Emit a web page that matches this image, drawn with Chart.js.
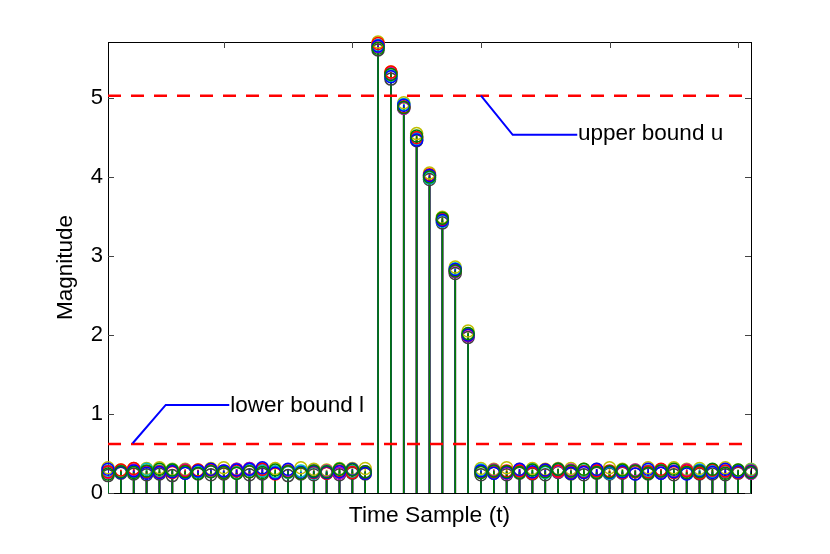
<!DOCTYPE html>
<html><head><meta charset="utf-8">
<script src="https://cdn.jsdelivr.net/npm/chart.js@4.4.1/dist/chart.umd.min.js"></script>
<style>html,body{margin:0;padding:0;background:#fff}canvas{display:block}</style>
</head><body>
<canvas id="c" width="830" height="554"></canvas>
<script>
// ---- data ----
const yTickValues = [0, 1, 2, 3, 4, 5];
const xTickValues = [10, 20, 30, 40, 50];
const upperBound = 5.03;
const lowerBound = 0.62;
const upperLabel = 'upper bound u';
const lowerLabel = 'lower bound l';
const upperLeader = [[30.0, 5.03], [32.47, 4.535], [37.49, 4.535]];
const lowerLeader = [[2.92, 0.63], [5.49, 1.115], [10.43, 1.115]];
const upperLabelAt = [37.55, 4.55];
const lowerLabelAt = [10.5, 1.105];

//              samples 1-21 (low)                                                                        | 22-29 (burst)                              | 30-51 (low)
const seriesBlack   = [0.22,0.25,0.24,0.23,0.24,0.22,0.25,0.24,0.23,0.24,0.25,0.23,0.24,0.25,0.22,0.24,0.23,0.25,0.23,0.25,0.24, 5.61,5.24,4.87,4.46,3.97,3.42,2.78,1.97, 0.23,0.25,0.23,0.25,0.24,0.23,0.26,0.24,0.23,0.25,0.24,0.25,0.24,0.24,0.25,0.23,0.25,0.24,0.24,0.23,0.25,0.25];
const seriesYellow  = [0.32,0.29,0.31,0.31,0.32,0.30,0.30,0.29,0.31,0.32,0.30,0.31,0.31,0.31,0.29,0.32,0.30,0.29,0.31,0.31,0.31, 5.71,5.33,4.94,4.55,4.05,3.49,2.86,2.05, 0.31,0.30,0.32,0.30,0.31,0.30,0.31,0.31,0.30,0.30,0.32,0.30,0.29,0.32,0.29,0.32,0.30,0.31,0.29,0.32,0.29,0.30];
const seriesMagenta = [0.26,0.27,0.29,0.27,0.26,0.28,0.29,0.28,0.27,0.28,0.30,0.31,0.29,0.26,0.28,0.26,0.28,0.28,0.25,0.27,0.27, 5.65,5.31,4.87,4.49,4.01,3.47,2.80,1.99, 0.27,0.29,0.25,0.29,0.26,0.28,0.27,0.29,0.26,0.29,0.27,0.26,0.29,0.26,0.27,0.28,0.29,0.26,0.28,0.27,0.28,0.25];
const seriesCyan    = [0.28,0.28,0.27,0.30,0.28,0.29,0.26,0.27,0.28,0.27,0.26,0.29,0.28,0.27,0.26,0.28,0.25,0.27,0.30,0.27,0.26, 5.67,5.28,4.92,4.48,3.99,3.44,2.84,2.01, 0.29,0.26,0.27,0.27,0.29,0.26,0.29,0.27,0.28,0.27,0.25,0.28,0.27,0.28,0.29,0.27,0.26,0.29,0.27,0.28,0.27,0.29];
const seriesRed     = [0.27,0.29,0.31,0.27,0.27,0.26,0.28,0.29,0.29,0.26,0.28,0.27,0.30,0.24,0.27,0.25,0.26,0.25,0.28,0.26,0.26, 5.69,5.33,4.89,4.50,4.03,3.46,2.82,2.00, 0.27,0.27,0.28,0.28,0.25,0.29,0.28,0.26,0.27,0.28,0.28,0.26,0.27,0.27,0.30,0.26,0.28,0.25,0.29,0.28,0.26,0.28];
const seriesBlue    = [0.30,0.26,0.28,0.25,0.26,0.27,0.25,0.28,0.30,0.28,0.29,0.30,0.32,0.25,0.30,0.26,0.27,0.26,0.27,0.30,0.25, 5.66,5.27,4.91,4.47,4.02,3.45,2.83,2.00, 0.28,0.25,0.26,0.30,0.27,0.29,0.30,0.25,0.26,0.30,0.26,0.27,0.24,0.30,0.25,0.27,0.24,0.28,0.26,0.30,0.27,0.27];
const seriesGreen   = [0.24,0.27,0.26,0.28,0.30,0.29,0.27,0.25,0.27,0.26,0.25,0.27,0.26,0.29,0.27,0.25,0.28,0.27,0.30,0.29,0.27, 5.63,5.30,4.88,4.52,4.00,3.48,2.81,2.02, 0.26,0.28,0.27,0.26,0.29,0.27,0.30,0.28,0.30,0.26,0.27,0.29,0.28,0.25,0.28,0.30,0.26,0.27,0.30,0.25,0.29,0.26];

// draw order: first = bottom, last = top
const seriesList = [
  {values: seriesBlack,   color: '#404040'},
  {values: seriesYellow,  color: '#bfbf00'},
  {values: seriesMagenta, color: '#bf00bf'},
  {values: seriesCyan,    color: '#00bfbf'},
  {values: seriesRed,     color: '#ff0000'},
  {values: seriesBlue,    color: '#0000ff'},
  {values: seriesGreen,   color: '#008000'}
];

const FONT = "'Liberation Sans', Arial, Helvetica, sans-serif";
const nSamples = seriesGreen.length;
const xMin = 1, xMax = nSamples;
const yMin = 0, yMax = 5.71;

const toPts = vals => vals.map((v, i) => ({x: i + 1, y: v}));

const datasets = [];
const nS = seriesList.length;
seriesList.forEach((s, k) => {
  datasets.push({
    type: 'scatter', data: toPts(s.values), showLine: false,
    pointStyle: 'circle', pointRadius: 6, pointHoverRadius: 6,
    pointBorderWidth: 1.5, pointBackgroundColor: 'rgba(0,0,0,0)',
    pointBorderColor: s.color, clip: false, order: 10 + (nS - k)
  });
  datasets.push({
    type: 'bar', data: toPts(s.values), backgroundColor: s.color,
    borderWidth: 0, barThickness: 1, grouped: false, order: 30 + (nS - k)
  });
});
datasets.push({type: 'line', data: [{x: xMin, y: upperBound}, {x: xMax, y: upperBound}],
  borderColor: '#ff0000', borderWidth: 2.6, borderDash: [13, 10], pointRadius: 0, fill: false, order: 2});
datasets.push({type: 'line', data: [{x: xMin, y: lowerBound}, {x: xMax, y: lowerBound}],
  borderColor: '#ff0000', borderWidth: 2.6, borderDash: [13, 10], pointRadius: 0, fill: false, order: 2});
datasets.push({type: 'line', data: upperLeader.map(p => ({x: p[0], y: p[1]})),
  borderColor: '#0000ff', borderWidth: 2, pointRadius: 0, fill: false, tension: 0, order: 1});
datasets.push({type: 'line', data: lowerLeader.map(p => ({x: p[0], y: p[1]})),
  borderColor: '#0000ff', borderWidth: 2, pointRadius: 0, fill: false, tension: 0, order: 1});

const frameTicks = {
  id: 'frameTicks',
  beforeDatasetsDraw(chart) {
    const {ctx, chartArea: a, scales: {x, y}} = chart;
    ctx.save();
    ctx.strokeStyle = '#444'; ctx.lineWidth = 1;
    ctx.beginPath();
    yTickValues.forEach(v => {
      const p = Math.round(y.getPixelForValue(v)) + 0.5;
      ctx.moveTo(a.left, p); ctx.lineTo(a.left + 6, p);
      ctx.moveTo(a.right, p); ctx.lineTo(a.right - 6, p);
    });
    xTickValues.forEach(v => {
      const p = Math.round(x.getPixelForValue(v)) + 0.5;
      ctx.moveTo(p, a.top); ctx.lineTo(p, a.top + 6);
      ctx.moveTo(p, a.bottom); ctx.lineTo(p, a.bottom - 6);
    });
    ctx.stroke();
    ctx.restore();
  },
  afterDraw(chart) {
    const {ctx, scales: {x, y}} = chart;
    ctx.save();
    ctx.fillStyle = '#000';
    ctx.font = '22.5px ' + FONT;
    ctx.textAlign = 'left'; ctx.textBaseline = 'middle';
    ctx.fillText(upperLabel, x.getPixelForValue(upperLabelAt[0]), y.getPixelForValue(upperLabelAt[1]));
    ctx.fillText(lowerLabel, x.getPixelForValue(lowerLabelAt[0]), y.getPixelForValue(lowerLabelAt[1]));
    ctx.restore();
  }
};

const boxBorder = {display: true, color: '#000', width: 1};

new Chart(document.getElementById('c'), {
  type: 'scatter',
  data: {datasets},
  options: {
    responsive: false, animation: false, devicePixelRatio: 1,
    layout: {padding: 0},
    plugins: {legend: {display: false}, tooltip: {enabled: false}},
    events: [],
    scales: {
      x: {type: 'linear', position: 'bottom', min: xMin, max: xMax, offset: false,
        grid: {display: false, offset: false}, border: boxBorder,
        ticks: {display: false},
        title: {display: true, text: 'Time Sample (t)', color: '#000', font: {family: FONT, size: 22.8},
          padding: {top: 0, bottom: 25}},
        afterFit: s => { s.height = 61; }},
      x2: {type: 'linear', position: 'top', min: xMin, max: xMax, offset: false,
        grid: {display: false}, border: boxBorder, ticks: {display: false},
        afterFit: s => { s.height = 42; }},
      y: {type: 'linear', position: 'left', min: yMin, max: yMax,
        grid: {display: false, drawTicks: false}, border: boxBorder,
        ticks: {stepSize: 1, includeBounds: false, color: '#000', padding: 5, font: {family: FONT, size: 22}},
        title: {display: true, text: 'Magnitude', color: '#000', font: {family: FONT, size: 22.5},
          padding: {top: 52, bottom: 0}},
        afterFit: s => { s.width = 108; }},
      y2: {type: 'linear', position: 'right', min: yMin, max: yMax,
        grid: {display: false}, border: boxBorder, ticks: {display: false},
        afterFit: s => { s.width = 79; }}
    }
  },
  plugins: [frameTicks]
});
</script>
</body></html>
